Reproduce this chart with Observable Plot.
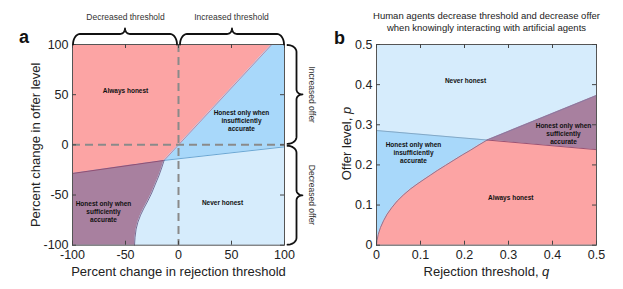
<!DOCTYPE html>
<html><head><meta charset="utf-8">
<script src="https://cdn.jsdelivr.net/npm/d3@7"></script>
<script src="https://cdn.jsdelivr.net/npm/@observablehq/plot@0.6"></script>
<style>
body{margin:0;background:#fff;}
#wrap{position:relative;width:623px;height:289px;overflow:hidden;}
#pa{position:absolute;left:0;top:0;}
#pb{position:absolute;left:330px;top:0;}
</style></head><body><div id="wrap"><div id="pa"></div><div id="pb"></div></div>
<script>
// ---------- data ----------
const panelATicks = [-100, -50, 0, 50, 100];
const panelBTicks = [0, 0.1, 0.2, 0.3, 0.4, 0.5];
const panelBTickLabels = ["0", "0.1", "0.2", "0.3", "0.4", "0.5"];

// panel a boundaries (percent change)
const aJunction = [-13.6, -15.5];
const aRedPurpleStart = [-100, -28.5];
const aRedBlueTop = [88, 100];
const aBlueLineEnd = [100, -2];
const aCurve = [[-41.5,-100],[-41.0,-92],[-40.0,-84],[-38.3,-77],[-35.8,-70],[-32.6,-63],[-29.0,-56],[-25.3,-48],[-21.8,-39],[-18.6,-31],[-15.9,-23],[-13.6,-15.5]];

// panel b boundaries (q, p)
const bCurve = [[0,0],[0.001,0.011],[0.004,0.027],[0.009,0.044],[0.016,0.061],[0.024,0.077],[0.035,0.094],[0.047,0.110],[0.061,0.125],[0.077,0.140],[0.092,0.152],[0.108,0.164],[0.123,0.175],[0.138,0.186],[0.157,0.199],[0.176,0.212],[0.195,0.225],[0.214,0.237],[0.233,0.250],[0.2515,0.262]];
const bLineDown = [[0,0.2857],[0.2515,0.262],[0.5,0.238]];
const bLineUp = [[0.2515,0.262],[0.5,0.373]];

const regionNames = ["Always honest", "Honest only when\ninsufficiently\naccurate", "Honest only when\nsufficiently\naccurate", "Never honest"];
const aLabelPos = [[-50,54.5],[59.4,24.6],[-70.8,-66],[41.5,-57]];
const bLabelPos = [[0.305,0.119],[0.084,0.231],[0.425,0.278],[0.2023,0.41]];

const braceTop = ["Decreased threshold", "Increased threshold"];
const braceRight = ["Increased offer", "Decreased offer"];
const titleB = "Human agents decrease threshold and decrease offer\nwhen knowingly interacting with artificial agents";

const colors = {honest:"#fca4a4", insuff:"#a8d8fa", suff:"#a8809f", never:"#d6ecfc"};
const fontFam = '"Liberation Sans", Arial, Helvetica, sans-serif';

// ---------- helpers ----------
function interp(poly, x) {
  for (let i = 0; i < poly.length - 1; i++) {
    const [x0,y0] = poly[i], [x1,y1] = poly[i+1];
    if (x >= x0 - 1e-9 && x <= x1 + 1e-9) return x1 === x0 ? y1 : y0 + (y1-y0)*(x-x0)/(x1-x0);
  }
  return poly[poly.length-1][1];
}
function band(xs, lo, hi) {
  return xs.map(x => ({x, y1: typeof lo === "number" ? lo : interp(lo, x), y2: typeof hi === "number" ? hi : interp(hi, x)}));
}
function pts(poly) { return poly.map(([x,y]) => ({x,y})); }

// brace generator in local (u along, v across) coordinates
function bracePoints(L, h, t, rx, rx2) {
  const half = [];
  const n = 10;
  for (let i = 0; i <= n; i++) { const th = i/n*Math.PI/2; half.push([rx - rx*Math.cos(th), h*Math.sin(th)]); }
  for (let i = 0; i <= n; i++) { const th = i/n*Math.PI/2; half.push([L/2 - rx2 + rx2*Math.sin(th), h + t*(1-Math.cos(th))]); }
  const other = half.slice().reverse().map(([u,v]) => [L-u, v]);
  return half.concat(other);
}

// ---------- panel a ----------
const A = {W:330, H:289, ml:72, mr:46, mt:44, mb:44.3};
const aPlotW = A.W - A.ml - A.mr, aPlotH = A.H - A.mt - A.mb;
const ixA = d3.scaleLinear([A.ml, A.W - A.mr], [-100, 100]);
const iyA = d3.scaleLinear([A.H - A.mb, A.mt], [-100, 100]);

const redLower = [aRedPurpleStart, aJunction, aRedBlueTop];
const aRed = band([aRedPurpleStart[0], aJunction[0], aRedBlueTop[0]], redLower, 100);
const aInsuff = band([aJunction[0], aRedBlueTop[0], 100], [aJunction, aBlueLineEnd], [aJunction, aRedBlueTop, [100,100]]);
const aSuffLower = [[-100,-100], ...aCurve];
const aSuff = band([-100, ...aCurve.map(d=>d[0])], aSuffLower, [aRedPurpleStart, aJunction]);

function toDataA(list) { return list.map(([px,py]) => ({x: ixA(px), y: iyA(py)})); }
const xa0 = ixA.invert(-100), xaMid = ixA.invert(0), xa1 = ixA.invert(100);
const yTopPx = iyA.invert(100), yMidPx = iyA.invert(0), yBotPx = iyA.invert(-100);
const topBraces = [[xa0 + 0.5, xaMid - 1.5], [xaMid + 1.5, xa1 - 0.5]].map(([a,b]) =>
  toDataA(bracePoints(b - a, 10.5, 5.5, 7, 5).map(([u,v]) => [a + u, yTopPx - v])));
const rightX = xa1 + 3;
const rightBraces = [[yTopPx + 0.5, yMidPx - 1], [yMidPx + 1, yBotPx - 0.5]].map(([a,b]) =>
  toDataA(bracePoints(b - a, 9, 6, 7, 5).map(([u,v]) => [rightX + v, a + u])));

const plotA = Plot.plot({
  width: A.W, height: A.H, marginLeft: A.ml, marginRight: A.mr, marginTop: A.mt, marginBottom: A.mb,
  x: {domain: [-100, 100], axis: null}, y: {domain: [-100, 100], axis: null},
  style: {background: "transparent", fontFamily: fontFam, overflow: "visible"},
  marks: [
    Plot.frame({fill: colors.never, stroke: null}),
    Plot.area(aRed, {x1: "x", y1: "y1", y2: "y2", fill: colors.honest}),
    Plot.area(aInsuff, {x1: "x", y1: "y1", y2: "y2", fill: colors.insuff}),
    Plot.area(aSuff, {x1: "x", y1: "y1", y2: "y2", fill: colors.suff}),
    Plot.line(pts([aRedPurpleStart, aJunction]), {x: "x", y: "y", stroke: "#8e4a6e", strokeWidth: 0.9}),
    Plot.line(pts([aJunction, aRedBlueTop]), {x: "x", y: "y", stroke: "#c47f98", strokeWidth: 0.9}),
    Plot.line(pts([aJunction, aBlueLineEnd]), {x: "x", y: "y", stroke: "#5f9fcf", strokeWidth: 0.9}),
    Plot.line(pts(aCurve), {x: "x", y: "y", stroke: "#6e5e88", strokeWidth: 0.9}),
    Plot.ruleX([0], {stroke: "#8a8a8a", strokeWidth: 2, strokeDasharray: "8,5"}),
    Plot.ruleY([0], {stroke: "#8a8a8a", strokeWidth: 2, strokeDasharray: "8,5"}),
    Plot.text(regionNames, {x: (d,i) => aLabelPos[i][0], y: (d,i) => aLabelPos[i][1], text: d => d, fontSize: 6.5, fontWeight: "bold", lineHeight: 1.23, fill: "#111"}),
    Plot.frame({stroke: "#555"}),
    Plot.ruleX(panelATicks, {x: d => d, insetTop: aPlotH - 4, stroke: "#444"}),
    Plot.ruleX(panelATicks, {x: d => d, insetBottom: aPlotH - 4, stroke: "#444"}),
    Plot.ruleY(panelATicks, {y: d => d, insetRight: aPlotW - 4, stroke: "#444"}),
    Plot.ruleY(panelATicks, {y: d => d, insetLeft: aPlotW - 4, stroke: "#444"}),
    Plot.text(panelATicks, {x: d => d, text: d => String(d), frameAnchor: "bottom", lineAnchor: "middle", dy: 10, fontSize: 12.5, fill: "#222"}),
    Plot.text(panelATicks, {y: d => d, text: d => String(d), frameAnchor: "left", textAnchor: "end", dx: -4, fontSize: 12.5, fill: "#222"}),
    Plot.text(["Percent change in rejection threshold"], {frameAnchor: "bottom", lineAnchor: "middle", dy: 26.5, fontSize: 13, fill: "#222"}),
    Plot.text(["Percent change in offer level"], {frameAnchor: "left", textAnchor: "middle", lineAnchor: "middle", dx: -37, rotate: -90, fontSize: 13, fill: "#222"}),
    Plot.text(["a"], {frameAnchor: "top-left", textAnchor: "middle", lineAnchor: "middle", dx: -48.5, dy: -7, fontSize: 18, fontWeight: "bold", fill: "#111"}),
    ...topBraces.map(b => Plot.line(b, {x: "x", y: "y", stroke: "#111", strokeWidth: 1.8})),
    ...rightBraces.map(b => Plot.line(b, {x: "x", y: "y", stroke: "#111", strokeWidth: 1.8})),
    Plot.text(braceTop, {x: (d,i) => i === 0 ? -50 : 50, y: 100, dy: -27, text: d => d, fontSize: 8.5, fill: "#333"}),
    Plot.text(braceRight, {x: 100, y: (d,i) => i === 0 ? 50 : -50, dx: 27, text: d => d, rotate: 90, fontSize: 8.5, fill: "#333"})
  ]
});
document.getElementById("pa").append(plotA);

// ---------- panel b ----------
const B = {W:293, H:289, ml:46, mr:27, mt:44, mb:44.3};
const bPlotW = B.W - B.ml - B.mr, bPlotH = B.H - B.mt - B.mb;
const bRed = band([...bCurve.map(d=>d[0]), 0.5], 0, [...bCurve, bLineDown[2]]);
const bInsuff = band(bCurve.map(d=>d[0]), bCurve, bLineDown);
const bSuff = band([bLineUp[0][0], bLineUp[1][0]], bLineDown, bLineUp);

const plotB = Plot.plot({
  width: B.W, height: B.H, marginLeft: B.ml, marginRight: B.mr, marginTop: B.mt, marginBottom: B.mb,
  x: {domain: [0, 0.5], axis: null}, y: {domain: [0, 0.5], axis: null},
  style: {background: "transparent", fontFamily: fontFam, overflow: "visible"},
  marks: [
    Plot.frame({fill: colors.never, stroke: null}),
    Plot.area(bRed, {x1: "x", y1: "y1", y2: "y2", fill: colors.honest}),
    Plot.area(bInsuff, {x1: "x", y1: "y1", y2: "y2", fill: colors.insuff}),
    Plot.area(bSuff, {x1: "x", y1: "y1", y2: "y2", fill: colors.suff}),
    Plot.line(pts(bLineDown.slice(0,2)), {x: "x", y: "y", stroke: "#7fa3bf", strokeWidth: 0.9}),
    Plot.line(pts(bLineDown.slice(1)), {x: "x", y: "y", stroke: "#8e4a6e", strokeWidth: 0.9}),
    Plot.line(pts(bLineUp), {x: "x", y: "y", stroke: "#8877a0", strokeWidth: 0.9}),
    Plot.line(pts(bCurve), {x: "x", y: "y", stroke: "#7f6f92", strokeWidth: 0.9}),
    Plot.text(regionNames, {x: (d,i) => bLabelPos[i][0], y: (d,i) => bLabelPos[i][1], text: d => d, fontSize: 6.5, fontWeight: "bold", lineHeight: 1.23, fill: "#111"}),
    Plot.frame({stroke: "#555"}),
    Plot.ruleX(panelBTicks, {x: d => d, insetTop: bPlotH - 4, stroke: "#444"}),
    Plot.ruleX(panelBTicks, {x: d => d, insetBottom: bPlotH - 4, stroke: "#444"}),
    Plot.ruleY(panelBTicks, {y: d => d, insetRight: bPlotW - 4, stroke: "#444"}),
    Plot.ruleY(panelBTicks, {y: d => d, insetLeft: bPlotW - 4, stroke: "#444"}),
    Plot.text(panelBTicks, {x: d => d, text: (d,i) => panelBTickLabels[i], frameAnchor: "bottom", lineAnchor: "middle", dy: 10, fontSize: 12.5, fill: "#222"}),
    Plot.text(panelBTicks, {y: d => d, text: (d,i) => panelBTickLabels[i], frameAnchor: "left", textAnchor: "end", dx: -4, fontSize: 12.5, fill: "#222"}),
    Plot.text(["Rejection threshold,"], {frameAnchor: "bottom", textAnchor: "end", lineAnchor: "middle", dx: 52, dy: 26.5, fontSize: 13, fill: "#222"}),
    Plot.text(["q"], {frameAnchor: "bottom", textAnchor: "start", lineAnchor: "middle", dx: 55.6, dy: 26.5, fontSize: 13, fontStyle: "italic", fill: "#222"}),
    Plot.text(["Offer level,"], {frameAnchor: "left", textAnchor: "end", lineAnchor: "middle", dx: -30, dy: -27.2, rotate: -90, fontSize: 13, fill: "#222"}),
    Plot.text(["p"], {frameAnchor: "left", textAnchor: "start", lineAnchor: "middle", dx: -30, dy: -30.8, rotate: -90, fontSize: 13, fontStyle: "italic", fill: "#222"}),
    Plot.text(["b"], {frameAnchor: "top-left", textAnchor: "middle", lineAnchor: "middle", dx: -37, dy: -6.5, fontSize: 18, fontWeight: "bold", fill: "#111"}),
    Plot.text([titleB], {frameAnchor: "top", lineAnchor: "middle", dy: -23, fontSize: 9.5, lineHeight: 1.26, fill: "#222"})
  ]
});
document.getElementById("pb").append(plotB);
</script></body></html>
